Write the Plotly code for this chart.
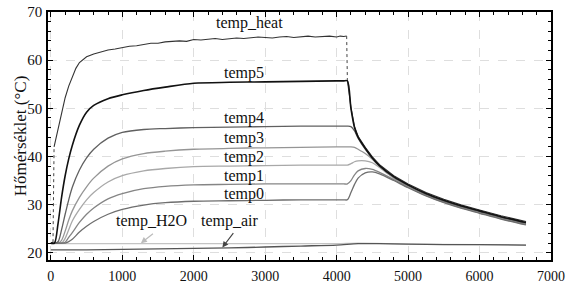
import plotly.graph_objects as go

# ---- data ----
t_main = [0, 50, 100, 150, 200, 250, 300, 400, 500, 600, 800, 1000, 1300, 1600, 2000, 2500, 3000, 3500, 4000, 4100,
          4150, 4200, 4250, 4300, 4400, 4500, 4600, 4800, 5000, 5250, 5500, 5750, 6000, 6300, 6650]

temp5 = [22, 22, 26, 31.5, 36, 39.5, 42.3, 46.5, 49.2, 50.6, 52.0, 52.8, 53.7, 54.4, 55.2, 55.4, 55.5, 55.6, 55.7, 55.7,
         55.7, 50.0, 46.0, 44.0, 41.7, 39.7, 38.1, 35.8, 34.1, 32.3, 30.9, 29.7, 28.7, 27.5, 26.3]
temp4 = [22, 22, 22.3, 24.8, 28.0, 31.0, 33.6, 37.2, 39.7, 41.5, 43.8, 45.0, 45.6, 45.8, 46.0, 46.1, 46.2, 46.3, 46.3, 46.3,
         46.3, 46.2, 45.3, 43.8, 41.5, 39.6, 38.0, 35.7, 34.0, 32.2, 30.8, 29.6, 28.6, 27.4, 26.2]
temp3 = [22, 22, 22, 22.6, 24.5, 26.8, 28.7, 31.5, 33.7, 35.5, 38.0, 39.5, 40.6, 41.1, 41.5, 41.7, 41.8, 41.9, 42.0, 42.0,
         42.0, 42.0, 41.9, 41.5, 40.6, 39.4, 37.9, 35.6, 33.9, 32.1, 30.7, 29.5, 28.5, 27.3, 26.1]
temp2 = [22, 22, 22, 22, 23.0, 24.8, 26.6, 29.0, 31.0, 32.5, 34.7, 36.0, 37.0, 37.5, 37.9, 38.0, 38.1, 38.2, 38.2, 38.2,
         38.2, 38.5, 38.9, 39.1, 39.1, 38.7, 37.7, 35.5, 33.8, 32.0, 30.6, 29.4, 28.4, 27.2, 26.0]
temp1 = [22, 22, 22, 22, 22.2, 23.2, 24.2, 26.3, 28.0, 29.3, 31.2, 32.3, 33.3, 33.8, 34.1, 34.2, 34.3, 34.3, 34.3, 34.3,
         34.3, 35.0, 36.2, 37.0, 37.5, 37.3, 36.7, 35.2, 33.6, 31.9, 30.5, 29.3, 28.3, 27.1, 25.9]
temp0 = [22, 22, 22, 22, 22, 22.3, 22.8, 24.3, 25.5, 26.5, 28.0, 29.0, 29.9, 30.4, 30.7, 30.8, 30.9, 31.0, 31.0, 31.0,
         31.0, 32.5, 34.2, 35.5, 36.6, 36.8, 36.4, 35.0, 33.5, 31.8, 30.4, 29.2, 28.2, 27.0, 25.8]

heat_t = [0, 30, 45, 70, 100, 130, 160, 200, 250, 300, 350, 400, 450, 500, 600, 700, 800, 900, 1000,
          1100, 1200, 1300, 1400, 1500, 1600, 1700, 1800, 1900, 2000, 2100, 2200, 2300, 2400, 2500,
          2600, 2700, 2800, 2900, 3000, 3100, 3200, 3300, 3400, 3500, 3600, 3700, 3800, 3900, 4000,
          4050, 4100, 4140,
          4150, 4200, 4250, 4300, 4400, 4500, 4600, 4800, 5000, 5250, 5500, 5750, 6000, 6300, 6650]
heat_v = [22.0, 22.2, 42.0, 43.6, 45.8, 48.0, 50.0, 52.2, 54.6, 56.6, 58.3, 59.5, 60.2, 60.7, 61.3, 61.7, 62.1, 62.3, 62.6,
          62.9, 63.0, 63.3, 63.5, 63.5, 63.8, 63.9, 64.0, 63.9, 64.3, 64.2, 64.3, 64.5, 64.3, 64.5,
          64.6, 64.5, 64.6, 64.8, 64.7, 64.6, 64.8, 64.9, 64.7, 64.8, 65.0, 64.8, 64.9, 65.0, 64.8,
          65.0, 64.9, 65.0,
          55.9, 50.2, 46.2, 44.2, 41.9, 39.9, 38.3, 36.0, 34.3, 32.5, 31.1, 29.9, 28.9, 27.7, 26.5]
heat_dotted_after = [1, 51]  # gaps drawn dotted: index i -> i+1

air_t = [0, 500, 1000, 1500, 2000, 2500, 3000, 3500, 4000, 4300, 4600, 5000, 5500, 6000, 6650]
temp_air = [20.6, 20.6, 20.7, 20.8, 20.9, 21.0, 21.2, 21.4, 21.6, 21.9, 21.9, 21.8, 21.7, 21.7, 21.6]
h2o_t = [0, 1000, 2000, 3000, 4000, 4300, 5000, 6000, 6650]
temp_h2o = [21.9, 21.9, 21.9, 21.9, 21.9, 22.0, 21.8, 21.7, 21.6]

labels = ["temp_heat", "temp5", "temp4", "temp3", "temp2", "temp1", "temp0"]
label_x = [2780, 2700, 2700, 2700, 2700, 2700, 2700]
label_y = [67.7, 57.3, 48.0, 43.9, 39.8, 36.0, 32.2]

FONT = "Liberation Serif"

fig = go.Figure()

def add_line(x, y, color, width, dash="solid", shape="spline"):
    fig.add_trace(go.Scatter(x=x, y=y, mode="lines", line=dict(color=color, width=width, dash=dash, shape=shape,
                                                                smoothing=0.8 if shape == "spline" else None),
                             hoverinfo="skip", showlegend=False))

add_line(h2o_t, temp_h2o, "#c4c4c4", 1.3)
add_line(air_t, temp_air, "#555555", 1.3)
add_line(t_main, temp2, "#a8a8a8", 1.3)
add_line(t_main, temp3, "#959595", 1.3)
add_line(t_main, temp1, "#858585", 1.3)
add_line(t_main, temp0, "#6e6e6e", 1.3)
add_line(t_main, temp4, "#606060", 1.3)

# temp_heat: solid parts with gaps, dotted jumps
sx, sy = [], []
for i, (a, b) in enumerate(zip(heat_t, heat_v)):
    sx.append(a); sy.append(b)
    if i in heat_dotted_after:
        sx.append(None); sy.append(None)
add_line(sx, sy, "#333333", 1.1, shape="linear")
for i in heat_dotted_after:
    add_line(heat_t[i:i + 2], heat_v[i:i + 2], "#444444", 1.0, dash="dot", shape="linear")

add_line(t_main, temp5, "#111111", 1.6)

for txt, x, y in zip(labels, label_x, label_y):
    fig.add_annotation(x=x, y=y, text=txt, showarrow=False, font=dict(family=FONT, size=16, color="#111"))

fig.add_annotation(x=1410, y=26.5, text="temp_H2O", showarrow=False, font=dict(family=FONT, size=16, color="#111"))
fig.add_annotation(x=2510, y=26.5, text="temp_air", showarrow=False, font=dict(family=FONT, size=16, color="#111"))
fig.add_annotation(x=1260, y=22.0, ax=1450, ay=24.2, xref="x", yref="y", axref="x", ayref="y", text="",
                   showarrow=True, arrowhead=2, arrowsize=1, arrowwidth=1.2, arrowcolor="#bbbbbb")
fig.add_annotation(x=2400, y=21.1, ax=2570, ay=24.4, xref="x", yref="y", axref="x", ayref="y", text="",
                   showarrow=True, arrowhead=2, arrowsize=1, arrowwidth=1.2, arrowcolor="#444444")

fig.add_annotation(x=-0.078, y=0.5, xref="paper", yref="paper", text="Hőmérséklet (°C)", textangle=-90,
                   showarrow=False, font=dict(family=FONT, size=17, color="#111"))

axis_common = dict(showline=True, linecolor="black", linewidth=1.6, mirror="allticks", ticks="inside",
                   ticklen=5, tickwidth=1.3, tickcolor="black", showgrid=True, gridcolor="#dedede",
                   griddash="dash", gridwidth=1, zeroline=False, automargin=False)

fig.update_xaxes(range=[-40, 7000], dtick=1000, tick0=0, ticklabelstandoff=2,
                 tickfont=dict(family=FONT, size=14, color="#111"),
                 minor=dict(ticks="inside", dtick=200, ticklen=3, tickwidth=1, tickcolor="black", showgrid=False),
                 **axis_common)
fig.update_yaxes(range=[18.5, 70], dtick=10, tick0=0, ticklabelstandoff=1,
                 tickfont=dict(family=FONT, size=15, color="#111"),
                 minor=dict(ticks="inside", dtick=2, ticklen=3, tickwidth=1, tickcolor="black", showgrid=False),
                 **axis_common)

fig.update_layout(width=569, height=284, margin=dict(l=48, r=18, t=12, b=24, autoexpand=False),
                  plot_bgcolor="white", paper_bgcolor="white", showlegend=False)

fig.write_html("out.html", config={"displayModeBar": False},
               post_script="document.body.style.margin='0';document.body.style.padding='0';document.body.style.overflow='hidden';")
